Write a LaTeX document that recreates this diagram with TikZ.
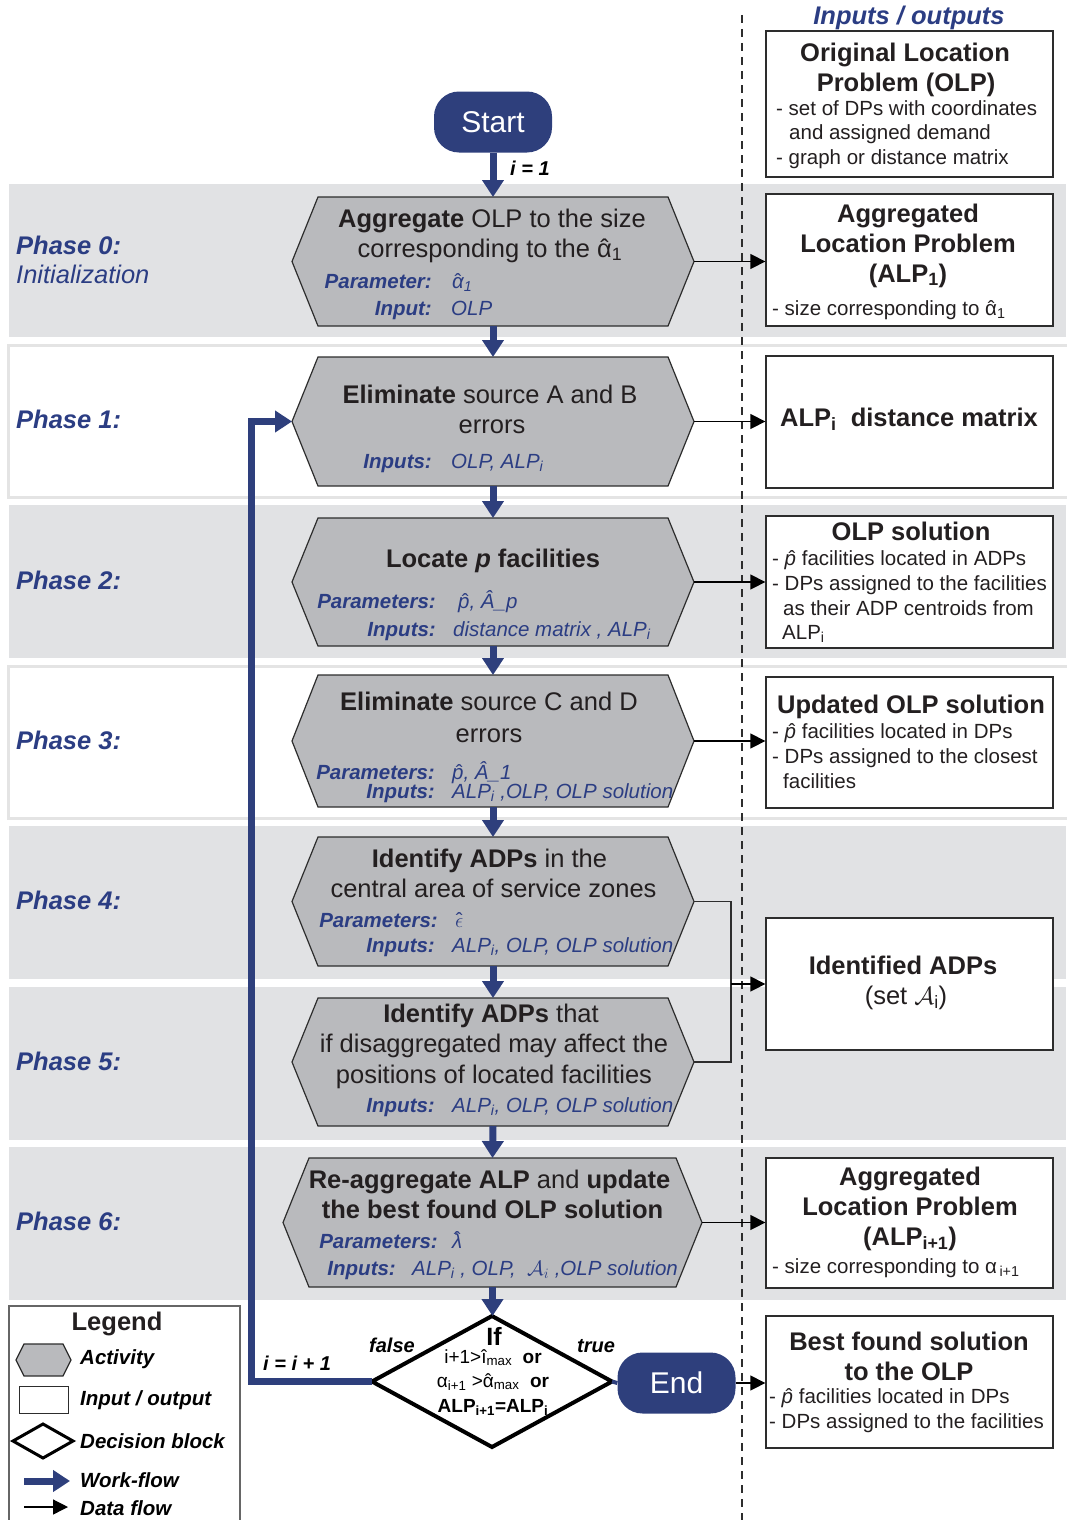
\documentclass[tikz,border=0pt]{standalone}
\usepackage{fontspec}
\setmainfont{Liberation Sans}
\usetikzlibrary{arrows.meta}
\definecolor{navy}{RGB}{46,63,124}
\definecolor{tblue}{RGB}{43,61,131}
\definecolor{bandgray}{RGB}{225,226,228}
\definecolor{bandline}{RGB}{228,228,228}
\definecolor{hexgray}{RGB}{185,186,189}
\definecolor{edge}{RGB}{45,45,45}
\definecolor{txtc}{RGB}{35,31,32}
\pgfdeclarelayer{bg}\pgfdeclarelayer{mid}\pgfsetlayers{bg,mid,main}
\newcommand\fsT{\fontsize{25.5pt}{31pt}\selectfont}
\newcommand\fsB{\fontsize{20.5pt}{25pt}\selectfont}
\newcommand\fsS{\fontsize{30pt}{36pt}\selectfont}
\newcommand\fsD{\fontsize{19pt}{23pt}\selectfont}
\newcommand\fsL{\fontsize{20pt}{24pt}\selectfont}
\newcommand\hatover[2][0pt]{{\ooalign{#2\cr\hidewidth\raisebox{#1}{\upshape ˆ}\hidewidth\cr}}}
\newcommand\myah{\hatover{α}}
\newcommand\myph{{\ooalign{\itshape p\cr\hidewidth\kern3pt\upshape ˆ\hidewidth\cr}}}
\newcommand\mylh{\hatover[0.08em]{λ}}
\newcommand\myeh{\hatover{$\epsilon$}}
\newcommand\mysA{$\mathcal{A}$}
\newcommand\hexdraw[2]{%
  \begin{pgfonlayer}{mid}
  \draw[hexsty] (#1.west) -- ([xshift=#2]#1.north west) -- ([xshift=-#2]#1.north east) -- (#1.east) -- ([xshift=-#2]#1.south east) -- ([xshift=#2]#1.south west) -- cycle;
  \end{pgfonlayer}}
\tikzset{
  hexn/.style={rectangle, draw=none, inner sep=0pt, outer sep=0pt},
  hexsty/.style={fill=hexgray, draw=edge, line width=1.2pt, line join=miter},
  iob/.style={rectangle, draw=edge, line width=1.3pt, fill=white, minimum width=287pt, inner sep=0pt},
  term/.style={rectangle, rounded corners=25pt, fill=navy, text=white, font=\fsS, minimum width=118pt, minimum height=61pt, inner sep=0pt},
  wf/.style={draw=navy, line width=7pt, line join=miter, -{Triangle[width=21pt,length=17pt]}},
  df/.style={draw=black, line width=1.3pt, -{Triangle[width=15pt,length=15pt]}},
  dfl/.style={draw=edge, line width=1.3pt},
  ttl/.style={inner sep=0pt, anchor=base, text=txtc, font=\fsT},
  tbody/.style={inner sep=0pt, anchor=base west, text=txtc, font=\fsB},
  plab/.style={inner sep=0pt, anchor=base east, text=tblue, font=\fsB\bfseries\itshape},
  pval/.style={inner sep=0pt, anchor=base west, text=tblue, font=\fsB\itshape},
  phase/.style={inner sep=0pt, anchor=base west, text=tblue, font=\fsT\bfseries\itshape},
  lbl/.style={inner sep=0pt, anchor=base west, text=black, font=\fsL\bfseries\itshape},
  dect/.style={inner sep=0pt, anchor=base, text=black, font=\fsD},
  wband/.style={fill=white, draw=bandline, line width=3pt},
}
\begin{document}
\begin{tikzpicture}[x=1pt,y=-1pt]
\useasboundingbox (0,0) rectangle (1066,1520);
% ---------- bands ----------
\begin{pgfonlayer}{bg}
\fill[bandgray] (9,184) rectangle (1066,337);
\draw[wband] (8.5,345.5) rectangle (1075,497.5);
\fill[bandgray] (9,505) rectangle (1066,658);
\draw[wband] (8.5,666.5) rectangle (1075,818.5);
\fill[bandgray] (9,826) rectangle (1066,979);
\fill[bandgray] (9,987) rectangle (1066,1140);
\fill[bandgray] (9,1147) rectangle (1066,1300);
\coordinate (dtop) at (742,15);
\coordinate (dbot) at (742,1525);
\draw[edge, line width=2.5pt, dash pattern=on 8pt off 6pt] (dtop) -- (dbot);
\node[rectangle, draw=gray!80!black, line width=1.2pt, fill=white, minimum width=231pt, minimum height=224pt, inner sep=0pt] (leg) at (124.5,1418) {};
\end{pgfonlayer}
% ---------- header ----------
\node[inner sep=0pt, anchor=base, text=tblue, font=\fsT\bfseries\itshape] (hdr) at (909,25) {Inputs / outputs};
% ---------- phase labels ----------
\node[phase] (p0) at (16,254) {Phase 0:};
\node[inner sep=0pt, anchor=base west, text=tblue, font=\fsT\itshape] (p0b) at (16,283) {Initialization};
\node[phase] (p1) at (16,428) {Phase 1:};
\node[phase] (p2) at (16,589) {Phase 2:};
\node[phase] (p3) at (16,749) {Phase 3:};
\node[phase] (p4) at (16,909) {Phase 4:};
\node[phase] (p5) at (16,1070) {Phase 5:};
\node[phase] (p6) at (16,1230) {Phase 6:};
% ---------- terminals ----------
\node[term] (start) at (493,122) {Start};
\node[term] (end) at (676.5,1383) {End};
% ---------- hexagons ----------
\node[hexn, minimum width=402pt, minimum height=129pt] (h0) at (493,261.5) {};
\hexdraw{h0}{26pt}
\node[hexn, minimum width=402pt, minimum height=129pt] (h1) at (493,421.5) {};
\hexdraw{h1}{26pt}
\node[hexn, minimum width=402pt, minimum height=128pt] (h2) at (493,582) {};
\hexdraw{h2}{26pt}
\node[hexn, minimum width=402pt, minimum height=132pt] (h3) at (493,741) {};
\hexdraw{h3}{26pt}
\node[hexn, minimum width=402pt, minimum height=129pt] (h4) at (493,901.5) {};
\hexdraw{h4}{26pt}
\node[hexn, minimum width=402pt, minimum height=128pt] (h5) at (493,1062) {};
\hexdraw{h5}{26pt}
\node[hexn, minimum width=419pt, minimum height=129pt] (h6) at (492.5,1222.5) {};
\hexdraw{h6}{26pt}
% ---------- decision ----------
\node[hexn, minimum width=240pt, minimum height=131pt] (dec) at (492,1381.5) {};
\draw[line width=4pt, fill=white, line join=miter] (dec.west) -- (dec.north) -- (dec.east) -- (dec.south) -- cycle;
% ---------- hex texts ----------
\node[ttl] (t0a) at (492,227) {\textbf{Aggregate} OLP to the size};
\node[ttl] (t0b) at (490,257) {corresponding to the \myah\textsubscript{1}};
\node[plab] (l0a) at (432,288) {Parameter:};
\node[pval] (v0a) at (452,288) {\myah\textsubscript{1}};
\node[plab] (l0b) at (432,315) {Input:};
\node[pval] (v0b) at (451,315) {OLP};

\node[ttl] (t1a) at (490,403) {\textbf{Eliminate} source A and B};
\node[ttl] (t1b) at (492,433) {errors};
\node[plab] (l1a) at (432,468) {Inputs:};
\node[pval] (v1a) at (451,468) {OLP, ALP\textsubscript{i}};

\node[ttl] (t2a) at (493,567) {\textbf{Locate \textit{p} facilities}};
\node[plab] (l2a) at (436,608) {Parameters:};
\node[pval] (v2a) at (458,608) {\myph, Â\_p};
\node[plab] (l2b) at (436,636) {Inputs:};
\node[pval] (v2b) at (453,636) {distance matrix , ALP\textsubscript{i}};

\node[ttl] (t3a) at (489,710) {\textbf{Eliminate} source C and D};
\node[ttl] (t3b) at (489,742) {errors};
\node[plab] (l3a) at (435,779) {Parameters:};
\node[pval] (v3a) at (452,779) {\myph, Â\_1};
\node[plab] (l3b) at (435,798) {Inputs:};
\node[pval] (v3b) at (452,798) {ALP\textsubscript{i} ,OLP, OLP solution};

\node[ttl] (t4a) at (489.5,867) {\textbf{Identify ADPs} in the};
\node[ttl] (t4b) at (493.5,897) {central area of service zones};
\node[plab] (l4a) at (438,927) {Parameters:};
\node[pval] (v4a) at (455,927) {\myeh};
\node[plab] (l4b) at (435,952) {Inputs:};
\node[pval] (v4b) at (452,952) {ALP\textsubscript{i}, OLP, OLP solution};

\node[ttl] (t5a) at (491,1022) {\textbf{Identify ADPs} that};
\node[ttl] (t5b) at (494,1052) {if disaggregated may affect the};
\node[ttl] (t5c) at (494,1083) {positions of located facilities};
\node[plab] (l5a) at (435,1112) {Inputs:};
\node[pval] (v5a) at (452,1112) {ALP\textsubscript{i}, OLP, OLP solution};

\node[ttl] (t6a) at (489.5,1188) {\textbf{Re-aggregate ALP} and \textbf{update}};
\node[ttl] (t6b) at (492.5,1218) {\textbf{the best found OLP solution}};
\node[plab] (l6a) at (438,1248) {Parameters:};
\node[pval] (v6a) at (452,1248) {\mylh};
\node[plab] (l6b) at (396,1275) {Inputs:};
\node[pval] (v6b) at (412,1275) {ALP\textsubscript{i} , OLP, \ \mysA$_i$ ,OLP solution};
% ---------- decision text ----------
\node[dect, font=\fontsize{25pt}{30pt}\selectfont\bfseries] (d0) at (494,1345) {If};
\node[dect] (d1) at (493,1363) {i+1>î\textsubscript{max}\ \ \textbf{or}};
\node[dect] (d2) at (493,1387) {α\textsubscript{i+1} >\myah\textsubscript{max}\ \ \textbf{or}};
\node[dect] (d3) at (493,1412) {\textbf{ALP\textsubscript{i+1}=ALP\textsubscript{i}}};
% ---------- io boxes ----------
\node[iob, minimum height=146pt] (bolp) at (909.5,104) {};
\node[iob, minimum height=132pt] (b1) at (909.5,260) {};
\node[iob, minimum height=132pt] (bd) at (909.5,422) {};
\node[iob, minimum height=132pt] (bsol) at (909.5,582) {};
\node[iob, minimum height=131pt] (bupd) at (909.5,742.5) {};
\node[iob, minimum height=132pt] (bid) at (909.5,984) {};
\node[iob, minimum height=130pt] (bnext) at (909.5,1223) {};
\node[iob, minimum height=132pt] (bbest) at (909.5,1382) {};
% texts
\node[ttl, font=\fsT\bfseries] (o1) at (905,62) {Original Location};
\node[ttl, font=\fsT\bfseries] (o2) at (906,91) {Problem (OLP)};
\node[tbody] (o3) at (776,115) {- set of DPs with coordinates};
\node[tbody] (o4) at (789,139) {and assigned demand};
\node[tbody] (o5) at (776,164) {- graph or distance matrix};

\node[ttl, font=\fsT\bfseries] (a1) at (908,222) {Aggregated};
\node[ttl, font=\fsT\bfseries] (a2) at (908,252) {Location Problem};
\node[ttl, font=\fsT\bfseries] (a3) at (908,282) {(ALP\textsubscript{1})};
\node[tbody] (a4) at (772,315) {- size corresponding to \myah\textsubscript{1}};

\node[ttl, font=\fsT\bfseries] (dm) at (909,426) {ALP\textsubscript{i}\ \ distance matrix};

\node[ttl, font=\fsT\bfseries] (s1) at (911,540) {OLP solution};
\node[tbody] (s2) at (772,565) {- \myph\ facilities located in ADPs};
\node[tbody] (s3) at (772,590) {- DPs assigned to the facilities};
\node[tbody] (s4) at (783,615) {as their ADP centroids from};
\node[tbody] (s5) at (782,639) {ALP\textsubscript{i}};

\node[ttl, font=\fsT\bfseries] (u1) at (911,713) {Updated OLP solution};
\node[tbody] (u2) at (772,738) {- \myph\ facilities located in DPs};
\node[tbody] (u3) at (772,763) {- DPs assigned to the closest};
\node[tbody] (u4) at (783,788) {facilities};

\node[ttl, font=\fsT\bfseries] (i1) at (903,974) {Identified ADPs};
\node[ttl] (i2) at (906,1004) {(set \mysA$_{\mathrm{i}}$)};

\node[ttl, font=\fsT\bfseries] (n1) at (910,1185) {Aggregated};
\node[ttl, font=\fsT\bfseries] (n2) at (910,1215) {Location Problem};
\node[ttl, font=\fsT\bfseries] (n3) at (910,1245) {(ALP\textsubscript{i+1})};
\node[tbody] (n4) at (772,1273) {- size corresponding to α\textsubscript{\,i+1}};

\node[ttl, font=\fsT\bfseries] (e1) at (909,1350) {Best found solution};
\node[ttl, font=\fsT\bfseries] (e2) at (909,1380) {to the OLP};
\node[tbody] (e3) at (769,1403) {- \myph\ facilities located in DPs};
\node[tbody] (e4) at (769,1428) {- DPs assigned to the facilities};
% ---------- work-flow ----------
\draw[wf] (start.south) -- (h0.north);
\draw[wf] (h0.south) -- (h1.north);
\draw[wf] (h1.south) -- (h2.north);
\draw[wf] (h2.south) -- (h3.north);
\draw[wf] (h3.south) -- (h4.north);
\draw[wf] (h4.south) -- (h5.north);
\draw[wf] (h5.south) -- (h6.north);
\draw[wf] (h6.south) -- (h6.south |- dec.north);
\coordinate (lp) at (251,1381.5);
\draw[wf] (dec.west) -- (lp) |- (h1.west);
\draw[draw=navy, line width=4pt] (dec.east) -- (end.west);
% ---------- data flow ----------
\draw[df] (h0.east) -- (h0.east -| b1.west);
\draw[df] (h1.east) -- (h1.east -| bd.west);
\draw[df] (h2.east) -- (h2.east -| bsol.west);
\draw[df] (h3.east) -- (h3.east -| bupd.west);
\coordinate (brk) at (731,901.5);
\draw[dfl] (h4.east) -- (brk) |- (h5.east);
\draw[df] (brk |- bid.west) -- (bid.west);
\draw[df] (h6.east) -- (h6.east -| bnext.west);
\draw[df] (end.east) -- (end.east -| bbest.west);
% ---------- labels ----------
\node[lbl] (li1) at (510,175) {i = 1};
\node[lbl] (lfalse) at (369,1352) {false};
\node[lbl] (ltrue) at (577,1352) {true};
\node[lbl] (linc) at (263,1370) {i = i + 1};
% ---------- legend ----------
\node[ttl, font=\fsT\bfseries] (legt) at (117,1330) {Legend};
\node[hexn, minimum width=55pt, minimum height=32pt] (lhex) at (43.5,1360) {};
\hexdraw{lhex}{8pt}
\node[rectangle, draw=edge, line width=1pt, minimum width=49pt, minimum height=27pt, inner sep=0pt] (lio) at (43.5,1399.5) {};
\node[hexn, minimum width=60pt, minimum height=34pt] (ldia) at (43,1441) {};
\draw[line width=3pt, fill=white, line join=miter] (ldia.west) -- (ldia.north) -- (ldia.east) -- (ldia.south) -- cycle;
\coordinate (lw1) at (24,1481);
\coordinate (lw2) at (70,1481);
\draw[wf] (lw1) -- (lw2);
\coordinate (ld1) at (24,1507);
\coordinate (ld2) at (68,1507);
\draw[df] (ld1) -- (ld2);
\node[lbl, font=\fsB\bfseries\itshape] (lg1) at (80,1364) {Activity};
\node[lbl, font=\fsB\bfseries\itshape] (lg2) at (80,1405) {Input / output};
\node[lbl, font=\fsB\bfseries\itshape] (lg3) at (80,1448) {Decision block};
\node[lbl, font=\fsB\bfseries\itshape] (lg4) at (80,1487) {Work-flow};
\node[lbl, font=\fsB\bfseries\itshape] (lg5) at (80,1515) {Data flow};
\end{tikzpicture}
\end{document}
